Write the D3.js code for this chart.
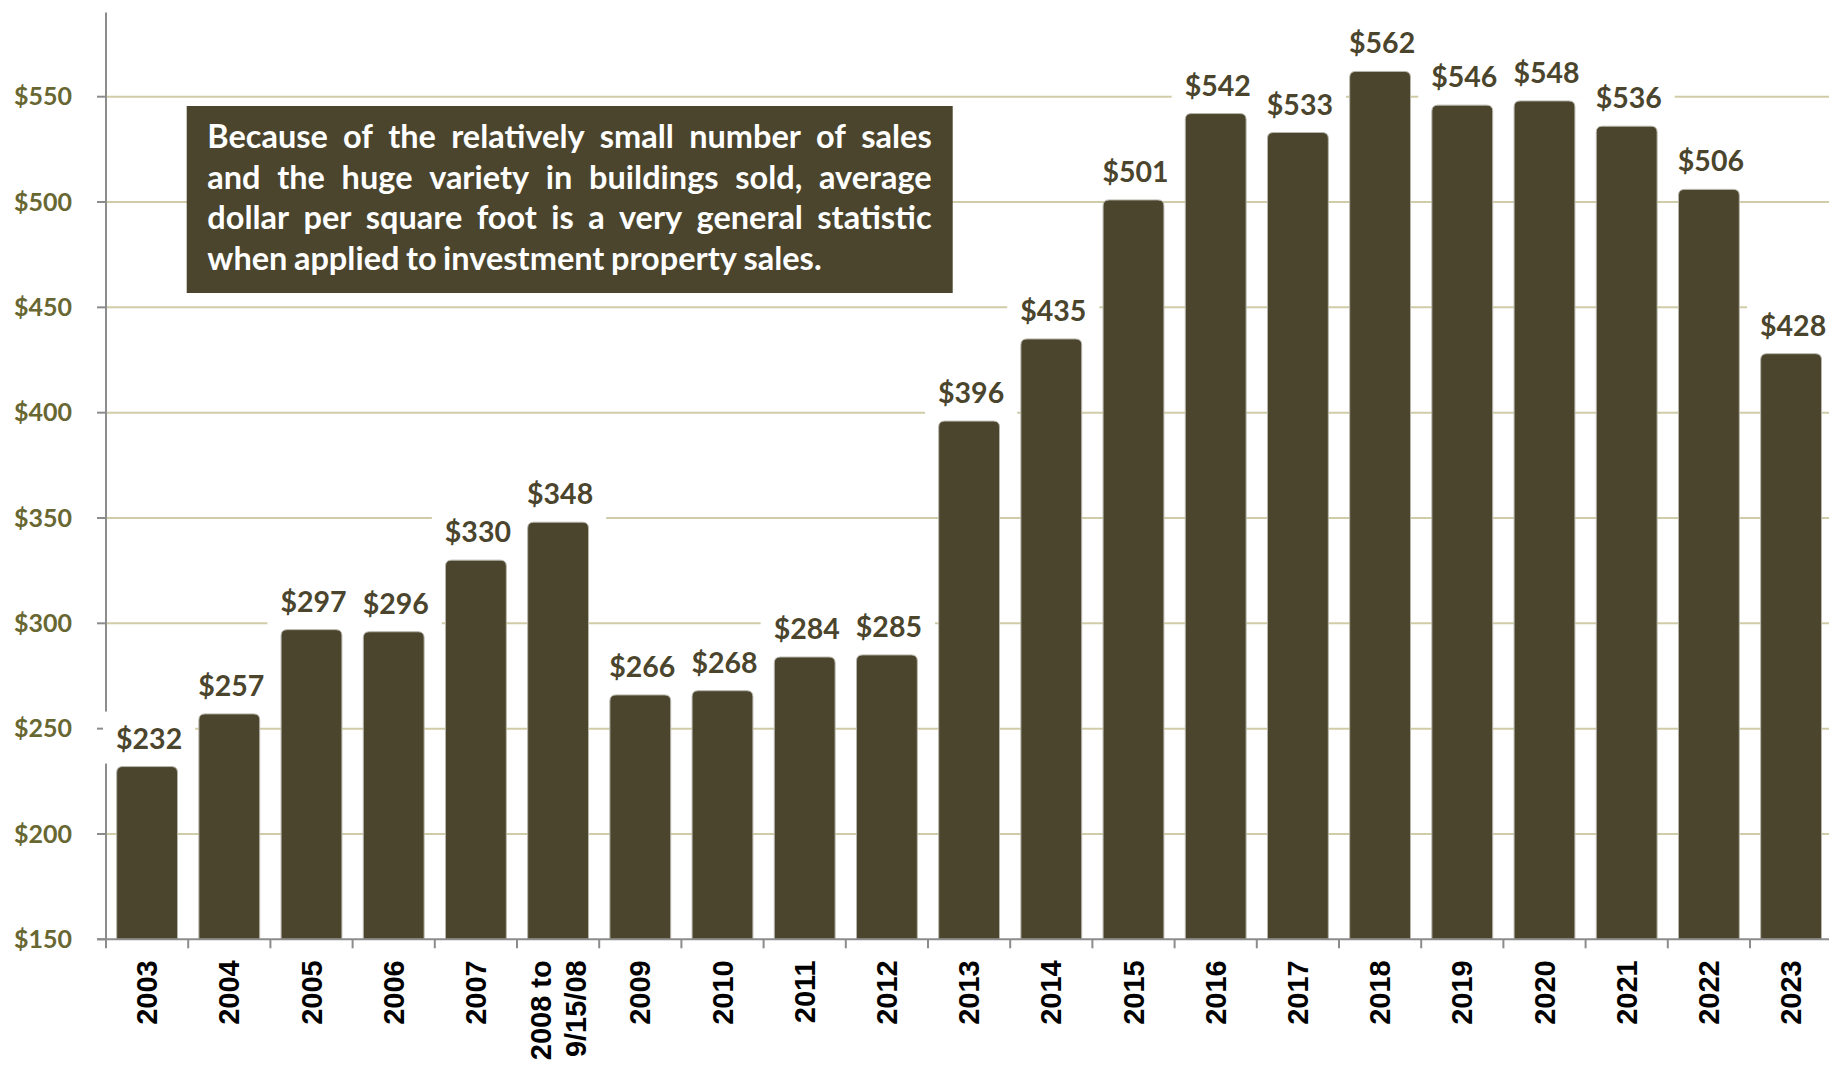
<!DOCTYPE html>
<html>
<head>
<meta charset="utf-8">
<script src="https://cdn.jsdelivr.net/npm/d3@7"></script>
<style>
  body { margin: 0; background: #fff; }
  svg { display: block; }
</style>
</head>
<body>
<svg id="chart" width="1829" height="1066"></svg>
<script>
// average dollar per square foot, by year
const categories = ["2003", "2004", "2005", "2006", "2007", "2008 to\n9/15/08", "2009", "2010", "2011", "2012",
    "2013", "2014", "2015", "2016", "2017", "2018", "2019", "2020", "2021", "2022", "2023"];
const values = [232, 257, 297, 296, 330, 348, 266, 268, 284, 285,
    396, 435, 501, 542, 533, 562, 546, 548, 536, 506, 428];
const yTicks = [150, 200, 250, 300, 350, 400, 450, 500, 550];
const noteLines = [
    "Because of the relatively small number of sales",
    "and the huge variety in buildings sold, average",
    "dollar per square foot is a very general statistic",
    "when applied to investment property sales."
];

const svg = d3.select("#chart");
const barColor = "#4a452c";
const gridColor = "#d0cca8";
const axisColor = "#8c8c8c";
const money = d => "$" + d;

const x0 = 106, step = 82.2;
const x = d3.scaleBand()
    .domain(categories)
    .range([x0, x0 + step * categories.length])
    .paddingInner(0.26)
    .paddingOuter(0.13);
const y = d3.scaleLinear().domain([150, 550]).range([939.3, 96.7]);
const yBase = y(150);

// gridlines
svg.append("g")
    .selectAll("line")
    .data(yTicks.filter(d => d > 150))
    .join("line")
    .attr("x1", x0).attr("x2", 1829)
    .attr("y1", d => y(d)).attr("y2", d => y(d))
    .attr("stroke", gridColor)
    .attr("stroke-width", 2);

// note box, justified text
const note = svg.append("g");
note.append("rect")
    .attr("x", 186.7).attr("y", 106)
    .attr("width", 766).attr("height", 187)
    .attr("fill", barColor);
const textLeft = 207.3, textRight = 931.7, noteSize = 32.5;
noteLines.forEach((line, i) => {
    const words = line.split(" ");
    const g = note.append("g");
    const ws = words.map(w => g.append("text")
        .attr("y", 148 + i * 40.5)
        .attr("fill", "#fff")
        .style("font-family", "Lato, 'Open Sans', sans-serif")
        .style("font-weight", 700)
        .style("font-size", noteSize + "px")
        .text(w));
    const widths = ws.map(t => t.node().getComputedTextLength());
    const total = d3.sum(widths);
    const last = i === noteLines.length - 1;
    const gap = last ? noteSize * 0.2
        : Math.max(noteSize * 0.15, (textRight - textLeft - total) / (words.length - 1));
    let cx = textLeft;
    ws.forEach((t, j) => {
        t.attr("x", cx);
        cx += widths[j] + gap;
    });
});

// y axis
svg.append("line")
    .attr("x1", x0).attr("x2", x0)
    .attr("y1", y(590)).attr("y2", yBase + 9)
    .attr("stroke", axisColor).attr("stroke-width", 2);
svg.append("g")
    .selectAll("line")
    .data(yTicks)
    .join("line")
    .attr("x1", x0 - 9).attr("x2", x0)
    .attr("y1", d => y(d)).attr("y2", d => y(d))
    .attr("stroke", axisColor).attr("stroke-width", 2);
svg.append("g")
    .selectAll("text")
    .data(yTicks)
    .join("text")
    .attr("x", 72)
    .attr("y", d => y(d))
    .attr("dy", "0.35em")
    .attr("text-anchor", "end")
    .attr("fill", "#686732")
    .style("font-family", "Lato, sans-serif")
    .style("font-weight", 700)
    .style("font-size", "25px")
    .text(money);

// value labels with white backing boxes
const labelG = svg.append("g");
const labels = labelG.selectAll("g")
    .data(values)
    .join("g")
    .attr("transform", (d, i) => `translate(${x(categories[i]) + x.bandwidth() / 2 + 2},${y(d) - 18})`);
labels.append("text")
    .attr("text-anchor", "middle")
    .attr("fill", barColor)
    .style("font-family", "Lato, sans-serif")
    .style("font-weight", 700)
    .style("font-size", "28.5px")
    .text(money);
labels.insert("rect", "text")
    .each(function () {
        const t = d3.select(this.parentNode).select("text").node();
        const w = t.getComputedTextLength();
        d3.select(this)
            .attr("x", -w / 2 - 13).attr("y", -37)
            .attr("width", w + 26).attr("height", 52)
            .attr("fill", "#fff");
    });

// bars with rounded tops
function topRounded(bx, by, w, h, r) {
    return `M${bx},${by + h}V${by + r}Q${bx},${by} ${bx + r},${by}H${bx + w - r}Q${bx + w},${by} ${bx + w},${by + r}V${by + h}Z`;
}
svg.append("g")
    .selectAll("path")
    .data(values)
    .join("path")
    .attr("d", (d, i) => topRounded(x(categories[i]), y(d), x.bandwidth(), yBase - y(d), 6))
    .attr("fill", barColor)
    .attr("stroke", "#b8b6ac")
    .attr("stroke-width", 1);

// x axis
svg.append("line")
    .attr("x1", x0 - 9).attr("x2", 1829)
    .attr("y1", yBase).attr("y2", yBase)
    .attr("stroke", axisColor).attr("stroke-width", 2);
svg.append("g")
    .selectAll("line")
    .data(categories)
    .join("line")
    .attr("x1", d => x(d) + x.bandwidth() + x.step() * x.paddingInner() / 2)
    .attr("x2", d => x(d) + x.bandwidth() + x.step() * x.paddingInner() / 2)
    .attr("y1", yBase).attr("y2", yBase + 9)
    .attr("stroke", axisColor).attr("stroke-width", 2);

const xl = svg.append("g")
    .selectAll("text")
    .data(categories)
    .join("text")
    .attr("transform", d => `translate(${x(d) + x.bandwidth() / 2},${yBase + 21}) rotate(-90)`)
    .attr("text-anchor", "end")
    .attr("fill", "#000")
    .style("font-family", "'Liberation Sans', Arial, sans-serif")
    .style("font-weight", 700)
    .style("font-size", "29px");
xl.each(function (d) {
    const parts = d.split("\n");
    const t = d3.select(this);
    parts.forEach((p, k) => {
        t.append("tspan")
            .attr("x", 0)
            .attr("dy", k === 0 ? (0.35 - (parts.length - 1) * 0.6) + "em" : "1.2em")
            .text(p);
    });
});
</script>
</body>
</html>
